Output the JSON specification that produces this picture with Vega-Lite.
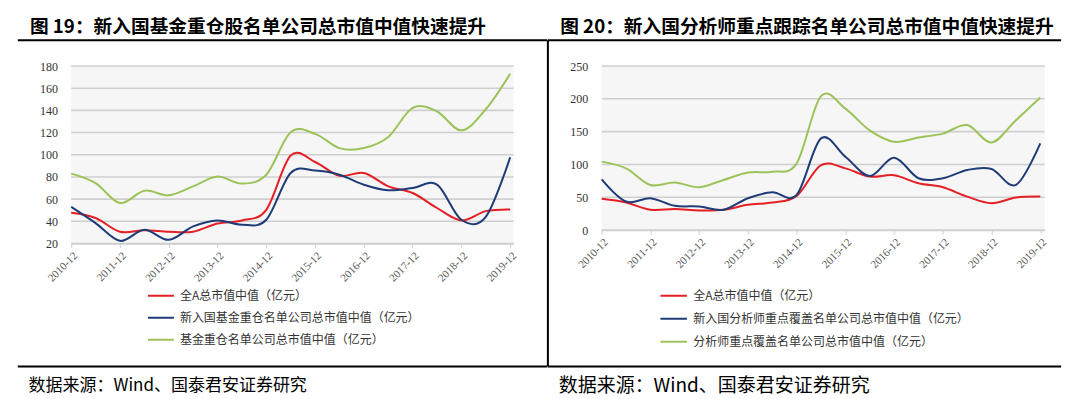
{
  "$schema": "https://vega.github.io/schema/vega-lite/v6.json",
  "padding": {"left": 16.2, "top": 17, "right": 0, "bottom": 0},
  "background": "white",
  "bounds": "flush",
  "spacing": 87.5,
  "config": {
    "view": {"stroke": null, "fill": "#F6F6F6"},
    "font": "Noto Sans CJK SC",
    "axis": {"labelFont": "Liberation Serif"}
  },
  "resolve": {"scale": {"color": "independent"}, "legend": {"color": "independent"}},
  "datasets": {
    "grid19": [{"v":20},{"v":40},{"v":60},{"v":80},{"v":100},{"v":120},{"v":140},{"v":160},{"v":180}],
    "grid20": [{"v":0},{"v":50},{"v":100},{"v":150},{"v":200},{"v":250}],
    "d19": [
      {"t":0,"series":"全A总市值中值（亿元）","value":47.7},{"t":1,"series":"全A总市值中值（亿元）","value":43},{"t":2,"series":"全A总市值中值（亿元）","value":30.6},{"t":3,"series":"全A总市值中值（亿元）","value":32},{"t":4,"series":"全A总市值中值（亿元）","value":30.6},{"t":5,"series":"全A总市值中值（亿元）","value":30.6},{"t":6,"series":"全A总市值中值（亿元）","value":38},{"t":7,"series":"全A总市值中值（亿元）","value":40.8},{"t":8,"series":"全A总市值中值（亿元）","value":50.4},{"t":9,"series":"全A总市值中值（亿元）","value":99.3},{"t":10,"series":"全A总市值中值（亿元）","value":93.5},{"t":11,"series":"全A总市值中值（亿元）","value":81},{"t":12,"series":"全A总市值中值（亿元）","value":83.6},{"t":13,"series":"全A总市值中值（亿元）","value":71.5},{"t":14,"series":"全A总市值中值（亿元）","value":65.5},{"t":15,"series":"全A总市值中值（亿元）","value":52},{"t":16,"series":"全A总市值中值（亿元）","value":40.8},{"t":17,"series":"全A总市值中值（亿元）","value":49.2},{"t":18,"series":"全A总市值中值（亿元）","value":50.7},
      {"t":0,"series":"新入国基金重仓名单公司总市值中值（亿元）","value":53},{"t":1,"series":"新入国基金重仓名单公司总市值中值（亿元）","value":38.4},{"t":2,"series":"新入国基金重仓名单公司总市值中值（亿元）","value":22.4},{"t":3,"series":"新入国基金重仓名单公司总市值中值（亿元）","value":32.4},{"t":4,"series":"新入国基金重仓名单公司总市值中值（亿元）","value":23.3},{"t":5,"series":"新入国基金重仓名单公司总市值中值（亿元）","value":35.4},{"t":6,"series":"新入国基金重仓名单公司总市值中值（亿元）","value":40.8},{"t":7,"series":"新入国基金重仓名单公司总市值中值（亿元）","value":36.9},{"t":8,"series":"新入国基金重仓名单公司总市值中值（亿元）","value":41.4},{"t":9,"series":"新入国基金重仓名单公司总市值中值（亿元）","value":83.6},{"t":10,"series":"新入国基金重仓名单公司总市值中值（亿元）","value":85.7},{"t":11,"series":"新入国基金重仓名单公司总市值中值（亿元）","value":82},{"t":12,"series":"新入国基金重仓名单公司总市值中值（亿元）","value":73},{"t":13,"series":"新入国基金重仓名单公司总市值中值（亿元）","value":68},{"t":14,"series":"新入国基金重仓名单公司总市值中值（亿元）","value":70},{"t":15,"series":"新入国基金重仓名单公司总市值中值（亿元）","value":73},{"t":16,"series":"新入国基金重仓名单公司总市值中值（亿元）","value":41.4},{"t":17,"series":"新入国基金重仓名单公司总市值中值（亿元）","value":44},{"t":18,"series":"新入国基金重仓名单公司总市值中值（亿元）","value":97.7},
      {"t":0,"series":"基金重仓名单公司总市值中值（亿元）","value":83},{"t":1,"series":"基金重仓名单公司总市值中值（亿元）","value":74.5},{"t":2,"series":"基金重仓名单公司总市值中值（亿元）","value":56.5},{"t":3,"series":"基金重仓名单公司总市值中值（亿元）","value":67.6},{"t":4,"series":"基金重仓名单公司总市值中值（亿元）","value":63.4},{"t":5,"series":"基金重仓名单公司总市值中值（亿元）","value":71.5},{"t":6,"series":"基金重仓名单公司总市值中值（亿元）","value":80.3},{"t":7,"series":"基金重仓名单公司总市值中值（亿元）","value":74},{"t":8,"series":"基金重仓名单公司总市值中值（亿元）","value":82},{"t":9,"series":"基金重仓名单公司总市值中值（亿元）","value":120.3},{"t":10,"series":"基金重仓名单公司总市值中值（亿元）","value":118.8},{"t":11,"series":"基金重仓名单公司总市值中值（亿元）","value":106},{"t":12,"series":"基金重仓名单公司总市值中值（亿元）","value":106},{"t":13,"series":"基金重仓名单公司总市值中值（亿元）","value":116},{"t":14,"series":"基金重仓名单公司总市值中值（亿元）","value":142.3},{"t":15,"series":"基金重仓名单公司总市值中值（亿元）","value":139},{"t":16,"series":"基金重仓名单公司总市值中值（亿元）","value":122},{"t":17,"series":"基金重仓名单公司总市值中值（亿元）","value":141},{"t":18,"series":"基金重仓名单公司总市值中值（亿元）","value":173}
    ],
    "d20": [
      {"t":0,"series":"全A总市值中值（亿元）","value":47.6},{"t":1,"series":"全A总市值中值（亿元）","value":42},{"t":2,"series":"全A总市值中值（亿元）","value":31},{"t":3,"series":"全A总市值中值（亿元）","value":32},{"t":4,"series":"全A总市值中值（亿元）","value":30},{"t":5,"series":"全A总市值中值（亿元）","value":31},{"t":6,"series":"全A总市值中值（亿元）","value":38.5},{"t":7,"series":"全A总市值中值（亿元）","value":42},{"t":8,"series":"全A总市值中值（亿元）","value":52},{"t":9,"series":"全A总市值中值（亿元）","value":99},{"t":10,"series":"全A总市值中值（亿元）","value":94},{"t":11,"series":"全A总市值中值（亿元）","value":81.5},{"t":12,"series":"全A总市值中值（亿元）","value":83.5},{"t":13,"series":"全A总市值中值（亿元）","value":71.3},{"t":14,"series":"全A总市值中值（亿元）","value":65.3},{"t":15,"series":"全A总市值中值（亿元）","value":51},{"t":16,"series":"全A总市值中值（亿元）","value":41},{"t":17,"series":"全A总市值中值（亿元）","value":49.6},{"t":18,"series":"全A总市值中值（亿元）","value":51},
      {"t":0,"series":"新入国分析师重点覆盖名单公司总市值中值（亿元）","value":77.4},{"t":1,"series":"新入国分析师重点覆盖名单公司总市值中值（亿元）","value":43.5},{"t":2,"series":"新入国分析师重点覆盖名单公司总市值中值（亿元）","value":48.6},{"t":3,"series":"新入国分析师重点覆盖名单公司总市值中值（亿元）","value":37},{"t":4,"series":"新入国分析师重点覆盖名单公司总市值中值（亿元）","value":36},{"t":5,"series":"新入国分析师重点覆盖名单公司总市值中值（亿元）","value":31},{"t":6,"series":"新入国分析师重点覆盖名单公司总市值中值（亿元）","value":48.6},{"t":7,"series":"新入国分析师重点覆盖名单公司总市值中值（亿元）","value":57.7},{"t":8,"series":"新入国分析师重点覆盖名单公司总市值中值（亿元）","value":53.6},{"t":9,"series":"新入国分析师重点覆盖名单公司总市值中值（亿元）","value":139.7},{"t":10,"series":"新入国分析师重点覆盖名单公司总市值中值（亿元）","value":111.8},{"t":11,"series":"新入国分析师重点覆盖名单公司总市值中值（亿元）","value":82.5},{"t":12,"series":"新入国分析师重点覆盖名单公司总市值中值（亿元）","value":110.3},{"t":13,"series":"新入国分析师重点覆盖名单公司总市值中值（亿元）","value":79},{"t":14,"series":"新入国分析师重点覆盖名单公司总市值中值（亿元）","value":79},{"t":15,"series":"新入国分析师重点覆盖名单公司总市值中值（亿元）","value":91.6},{"t":16,"series":"新入国分析师重点覆盖名单公司总市值中值（亿元）","value":93},{"t":17,"series":"新入国分析师重点覆盖名单公司总市值中值（亿元）","value":68.8},{"t":18,"series":"新入国分析师重点覆盖名单公司总市值中值（亿元）","value":132},
      {"t":0,"series":"分析师重点覆盖名单公司总市值中值（亿元）","value":104.3},{"t":1,"series":"分析师重点覆盖名单公司总市值中值（亿元）","value":94},{"t":2,"series":"分析师重点覆盖名单公司总市值中值（亿元）","value":68.8},{"t":3,"series":"分析师重点覆盖名单公司总市值中值（亿元）","value":72.4},{"t":4,"series":"分析师重点覆盖名单公司总市值中值（亿元）","value":65.3},{"t":5,"series":"分析师重点覆盖名单公司总市值中值（亿元）","value":76.4},{"t":6,"series":"分析师重点覆盖名单公司总市值中值（亿元）","value":87.6},{"t":7,"series":"分析师重点覆盖名单公司总市值中值（亿元）","value":89},{"t":8,"series":"分析师重点覆盖名单公司总市值中值（亿元）","value":101.7},{"t":9,"series":"分析师重点覆盖名单公司总市值中值（亿元）","value":204},{"t":10,"series":"分析师重点覆盖名单公司总市值中值（亿元）","value":185},{"t":11,"series":"分析师重点覆盖名单公司总市值中值（亿元）","value":152},{"t":12,"series":"分析师重点覆盖名单公司总市值中值（亿元）","value":134.6},{"t":13,"series":"分析师重点覆盖名单公司总市值中值（亿元）","value":141},{"t":14,"series":"分析师重点覆盖名单公司总市值中值（亿元）","value":147},{"t":15,"series":"分析师重点覆盖名单公司总市值中值（亿元）","value":160},{"t":16,"series":"分析师重点覆盖名单公司总市值中值（亿元）","value":133.6},{"t":17,"series":"分析师重点覆盖名单公司总市值中值（亿元）","value":167.5},{"t":18,"series":"分析师重点覆盖名单公司总市值中值（亿元）","value":202}
    ]
  },
  "hconcat": [
    {
      "width": 442.4,
      "height": 177.5,
      "title": {"text": "图 19：新入国基金重仓股名单公司总市值中值快速提升", "anchor": "start", "frame": "group", "dx": -41.3, "offset": -12,
        "baseline": "alphabetic", "font": "Noto Sans CJK SC", "fontSize": 18.7, "fontWeight": "bold", "color": "#000000"},
      "layer": [
        {
          "data": {"name": "grid19"},
          "mark": {"type": "rule", "color": "#CFCFCF", "strokeWidth": 1.6},
          "encoding": {
            "y": {"field": "v", "type": "quantitative"}
          }
        },
        {
          "data": {"name": "d19"},
          "mark": {"type": "line", "interpolate": "cardinal", "tension": 0, "strokeWidth": 2},
          "encoding": {
            "x": {"field": "t", "type": "quantitative",
              "scale": {"domain": [0, 18.14], "nice": false, "zero": false},
              "axis": {"orient": "bottom", "values": [0,2,4,6,8,10,12,14,16,18], "tickCount": 20, "labelExpr": "(2010 + datum.value / 2) + '-12'",
                "labelAngle": -45, "labelFontSize": 11, "labelColor": "#595959", "labelPadding": 2, "labelOverlap": false,
                "domain": true, "ticks": true, "domainColor": "#CFCFCF", "domainWidth": 1.3, "tickColor": "#CFCFCF", "tickSize": 4, "grid": false,
                "title": "数据来源：Wind、国泰君安证券研究", "titleX": -43.1, "titleY": 146.8, "titleAlign": "left",
                "titleBaseline": "alphabetic", "titleAngle": 0, "titleFont": "Noto Sans CJK SC", "titleFontSize": 17,
                "titleFontWeight": "normal", "titleColor": "#000000"}},
            "y": {"field": "value", "type": "quantitative",
              "scale": {"domain": [20, 180], "nice": false, "zero": false},
              "axis": {"values": [20,40,60,80,100,120,140,160,180], "tickCount": 20, "domain": false, "ticks": false, "tickSize": 0,
                "labelPadding": 13.8, "labelFontSize": 12, "labelColor": "#333333", "labelOverlap": false,
                "grid": false, "title": null}},
            "color": {"field": "series", "type": "nominal",
              "scale": {"domain": ["全A总市值中值（亿元）", "新入国基金重仓名单公司总市值中值（亿元）", "基金重仓名单公司总市值中值（亿元）"],
                        "range": ["#E41F25", "#1F3C78", "#9CC35A"]},
              "legend": {"orient": "none", "legendX": 75.7, "legendY": 218.9, "direction": "vertical", "title": null,
                "symbolType": "stroke", "symbolSize": 676, "symbolStrokeWidth": 2, "labelFont": "Noto Sans CJK SC",
                "labelFontSize": 12, "labelColor": "#333333", "labelOffset": 5, "clipHeight": 21.7, "rowPadding": 0,
                "padding": 0, "labelLimit": 500}}
          }
        },
        {
          "data": {"values": [{}]},
          "mark": {"type": "rule", "color": "#000000", "strokeWidth": 2},
          "encoding": {
            "x": {"datum": -2.19, "type": "quantitative"},
            "x2": {"datum": 19.52},
            "y": {"datum": 203.17, "type": "quantitative"}
          }
        },
        {
          "data": {"values": [{}]},
          "mark": {"type": "rule", "color": "#000000", "strokeWidth": 2},
          "encoding": {
            "x": {"datum": -2.19, "type": "quantitative"},
            "x2": {"datum": 19.52},
            "y": {"datum": -90.87, "type": "quantitative"}
          }
        }
      ]
    },
    {
      "width": 443,
      "height": 164.1,
      "title": {"text": "图 20：新入国分析师重点跟踪名单公司总市值中值快速提升", "anchor": "start", "frame": "group", "dx": -41.5, "offset": -12,
        "baseline": "alphabetic", "font": "Noto Sans CJK SC", "fontSize": 18.7, "fontWeight": "bold", "color": "#000000"},
      "layer": [
        {
          "data": {"name": "grid20"},
          "mark": {"type": "rule", "color": "#CFCFCF", "strokeWidth": 1.6},
          "encoding": {
            "y": {"field": "v", "type": "quantitative"}
          }
        },
        {
          "data": {"name": "d20"},
          "mark": {"type": "line", "interpolate": "cardinal", "tension": 0, "strokeWidth": 2},
          "encoding": {
            "x": {"field": "t", "type": "quantitative",
              "scale": {"domain": [0, 18.18], "nice": false, "zero": false},
              "axis": {"orient": "bottom", "values": [0,2,4,6,8,10,12,14,16,18], "tickCount": 20, "labelExpr": "(2010 + datum.value / 2) + '-12'",
                "labelAngle": -45, "labelFontSize": 11, "labelColor": "#595959", "labelPadding": 2, "labelOverlap": false,
                "domain": true, "ticks": true, "domainColor": "#CFCFCF", "domainWidth": 1.3, "tickColor": "#CFCFCF", "tickSize": 4, "grid": false,
                "title": "数据来源：Wind、国泰君安证券研究", "titleX": -43.5, "titleY": 161, "titleAlign": "left",
                "titleBaseline": "alphabetic", "titleAngle": 0, "titleFont": "Noto Sans CJK SC", "titleFontSize": 19,
                "titleFontWeight": "normal", "titleColor": "#000000"}},
            "y": {"field": "value", "type": "quantitative",
              "scale": {"domain": [0, 250], "nice": false, "zero": false},
              "axis": {"values": [0,50,100,150,200,250], "tickCount": 20, "domain": false, "ticks": false, "tickSize": 0,
                "labelPadding": 14, "labelFontSize": 12, "labelColor": "#333333", "labelOverlap": false,
                "grid": false, "title": null}},
            "color": {"field": "series", "type": "nominal",
              "scale": {"domain": ["全A总市值中值（亿元）", "新入国分析师重点覆盖名单公司总市值中值（亿元）", "分析师重点覆盖名单公司总市值中值（亿元）"],
                        "range": ["#E41F25", "#1F3C78", "#9CC35A"]},
              "legend": {"orient": "none", "legendX": 57.5, "legendY": 218.65, "direction": "vertical", "title": null,
                "symbolType": "stroke", "symbolSize": 702, "symbolStrokeWidth": 2, "labelFont": "Noto Sans CJK SC",
                "labelFontSize": 12, "labelColor": "#333333", "labelOffset": 5, "clipHeight": 22.3, "rowPadding": 0,
                "padding": 0, "labelLimit": 500}}
          }
        },
        {
          "data": {"values": [{}]},
          "mark": {"type": "rule", "color": "#000000", "strokeWidth": 2},
          "encoding": {
            "x": {"datum": -2.208, "type": "quantitative"},
            "x2": {"datum": 18.855},
            "y": {"datum": 289.15, "type": "quantitative"}
          }
        },
        {
          "data": {"values": [{}]},
          "mark": {"type": "rule", "color": "#000000", "strokeWidth": 2},
          "encoding": {
            "x": {"datum": -2.208, "type": "quantitative"},
            "x2": {"datum": 18.855},
            "y": {"datum": -207.8, "type": "quantitative"}
          }
        },
        {
          "data": {"values": [{}]},
          "mark": {"type": "rule", "color": "#000000", "strokeWidth": 2},
          "encoding": {
            "x": {"datum": -2.208, "type": "quantitative"},
            "y": {"datum": 289.15, "type": "quantitative"},
            "y2": {"datum": -207.8}
          }
        }
      ]
    }
  ]
}
